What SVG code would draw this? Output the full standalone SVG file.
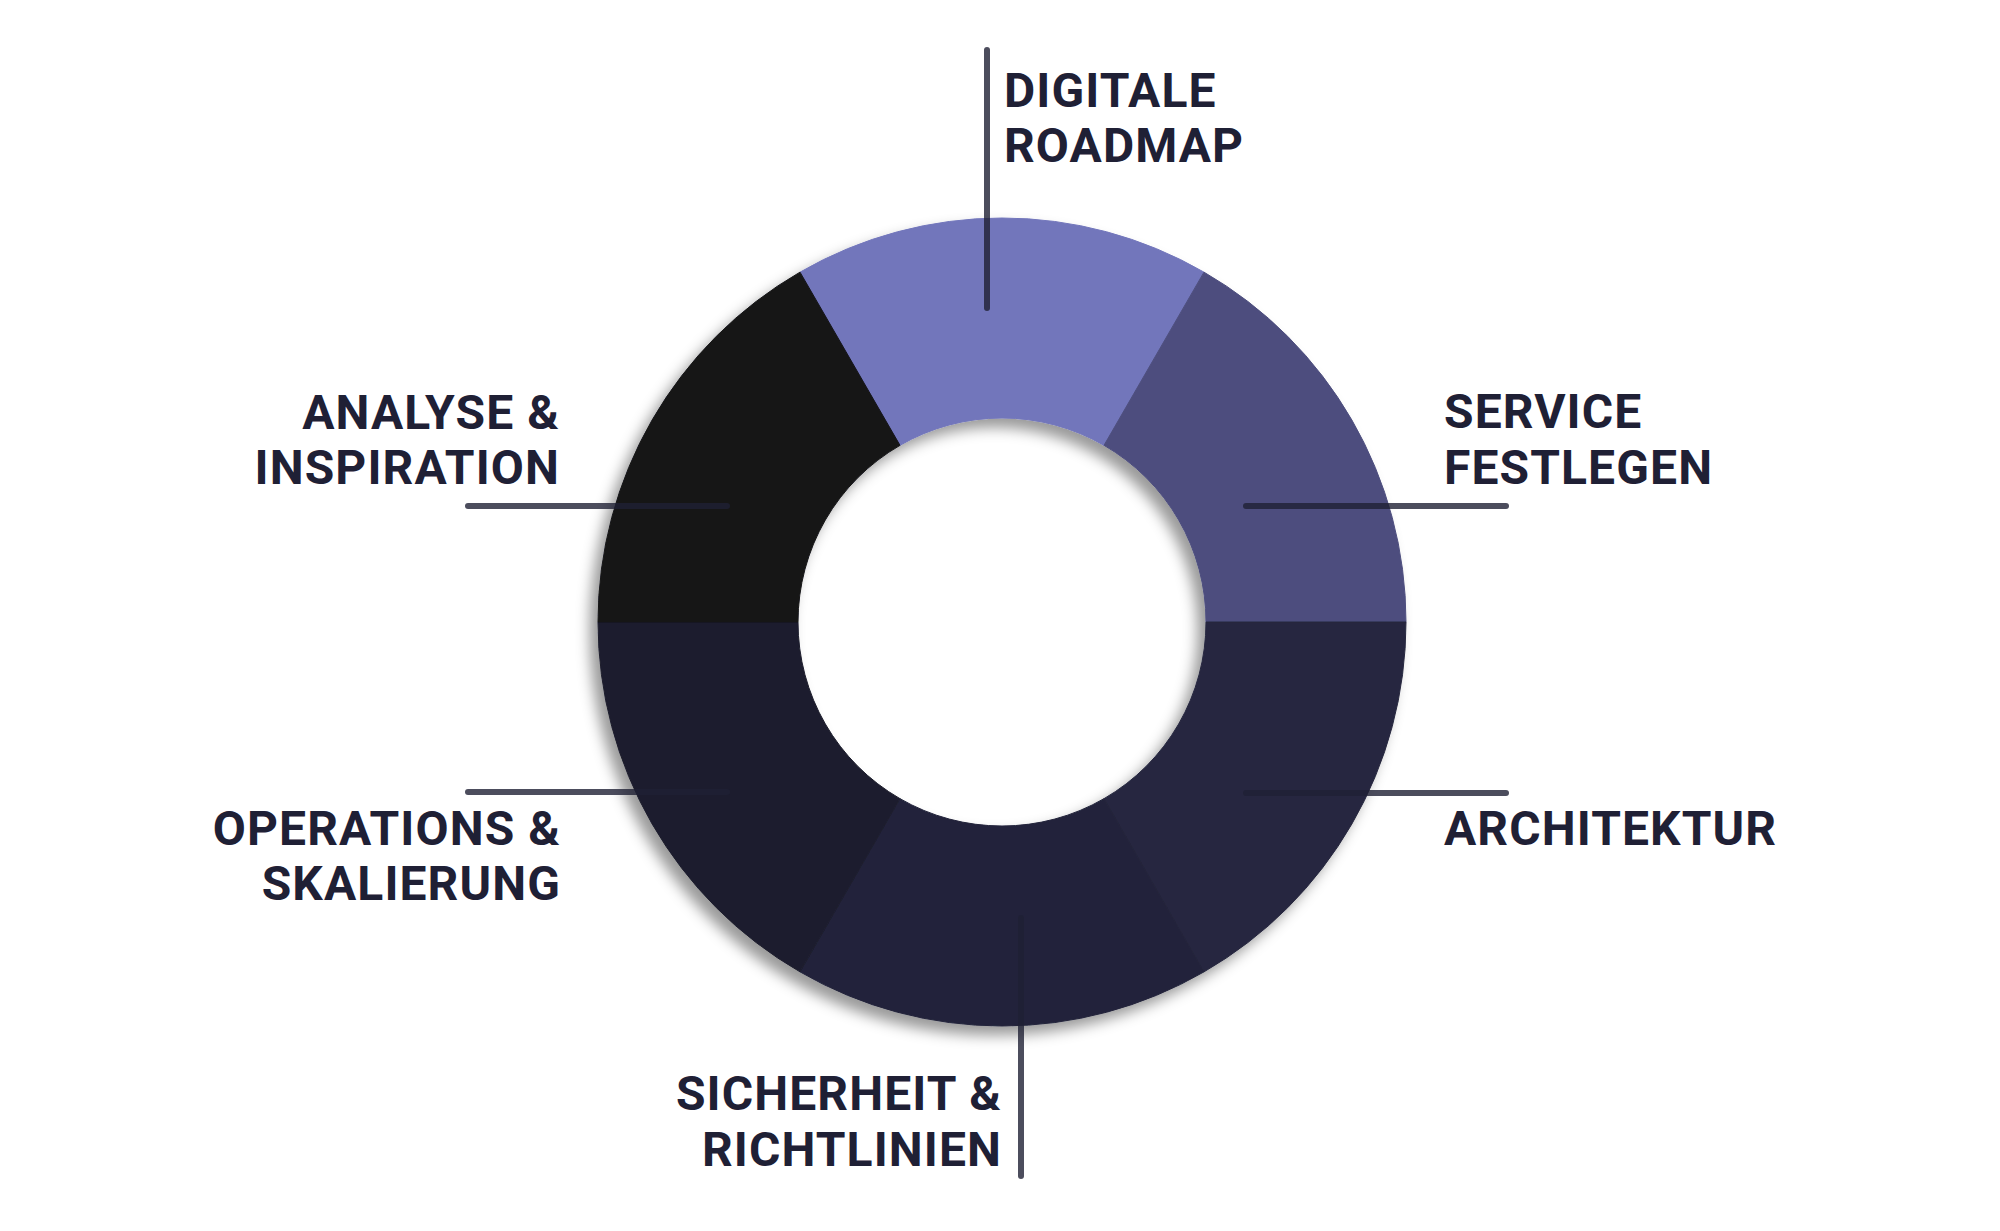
<svg xmlns="http://www.w3.org/2000/svg" width="2000" height="1231" viewBox="0 0 2000 1231">
  <defs>
    <filter id="shadow" x="-20%" y="-20%" width="140%" height="140%">
      <feDropShadow dx="-8" dy="9" stdDeviation="7" flood-color="#000000" flood-opacity="0.4"/>
    </filter>
    <style>
      .lbl { font-family: Roboto, "Liberation Sans", sans-serif; font-weight: 700; font-size: 48px; fill: #1f2035; letter-spacing: 1.1px; }
      .end { text-anchor: end; }
      .conn { stroke: #1f2035; stroke-opacity: 0.8; stroke-width: 6; stroke-linecap: round; fill: none; }
      .seg { stroke-width: 1; }
    </style>
  </defs>
  <rect width="2000" height="1231" fill="#ffffff"/>

  <g id="donut" filter="url(#shadow)">
    <g id="seg-digitale-roadmap">
      <path class="seg" fill="#7276bb" stroke="#7276bb" d="M 1204 272.13 A 404 404 0 0 0 800 272.13 L 900 445.33 A 204 204 0 0 1 1104 445.33 Z"/>
    </g>
    <g id="seg-service-festlegen">
      <path class="seg" fill="#4d4e7e" stroke="#4d4e7e" d="M 1406 622 A 404 404 0 0 0 1204 272.13 L 1104 445.33 A 204 204 0 0 1 1206 622 Z"/>
    </g>
    <g id="seg-architektur">
      <path class="seg" fill="#26273f" stroke="#26273f" d="M 1204 971.87 A 404 404 0 0 0 1406 622 L 1206 622 A 204 204 0 0 1 1104 798.67 Z"/>
    </g>
    <g id="seg-sicherheit">
      <path class="seg" fill="#21223a" stroke="#21223a" d="M 800 971.87 A 404 404 0 0 0 1204 971.87 L 1104 798.67 A 204 204 0 0 1 900 798.67 Z"/>
    </g>
    <g id="seg-operations">
      <path class="seg" fill="#1c1d2d" stroke="#1c1d2d" d="M 598 622 A 404 404 0 0 0 800 971.87 L 900 798.67 A 204 204 0 0 1 798 622 Z"/>
    </g>
    <g id="seg-analyse">
      <path class="seg" fill="#141419" stroke="#141419" d="M 800 272.13 A 404 404 0 0 0 598 622 L 798 622 A 204 204 0 0 1 900 445.33 Z"/>
    </g>
  </g>

  <g id="connectors">
    <path class="conn" d="M 987 50 V 308"/>
    <path class="conn" d="M 468 506 H 727"/>
    <path class="conn" d="M 468 792 H 727"/>
    <path class="conn" d="M 1246 506 H 1506"/>
    <path class="conn" d="M 1246 793 H 1506"/>
    <path class="conn" d="M 1021 918 V 1176"/>
  </g>

  <g id="label-digitale-roadmap">
    <text class="lbl" x="1004" y="107">DIGITALE</text>
    <text class="lbl" x="1004" y="162">ROADMAP</text>
  </g>
  <g id="label-service-festlegen">
    <text class="lbl" x="1444" y="428">SERVICE</text>
    <text class="lbl" x="1444" y="484">FESTLEGEN</text>
  </g>
  <g id="label-architektur">
    <text class="lbl" x="1444" y="845">ARCHITEKTUR</text>
  </g>
  <g id="label-analyse-inspiration">
    <text class="lbl end" x="560" y="429">ANALYSE &amp;</text>
    <text class="lbl end" x="560" y="484">INSPIRATION</text>
  </g>
  <g id="label-operations-skalierung">
    <text class="lbl end" x="561" y="845">OPERATIONS &amp;</text>
    <text class="lbl end" x="561" y="900">SKALIERUNG</text>
  </g>
  <g id="label-sicherheit-richtlinien">
    <text class="lbl end" x="1002" y="1110">SICHERHEIT &amp;</text>
    <text class="lbl end" x="1002" y="1166">RICHTLINIEN</text>
  </g>
</svg>
